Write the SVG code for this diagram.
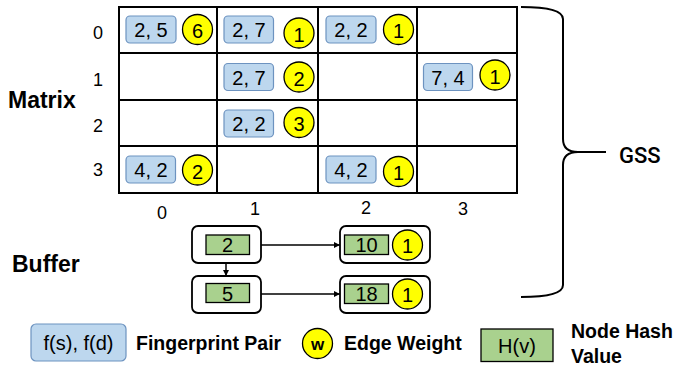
<svg xmlns="http://www.w3.org/2000/svg" width="676" height="370" viewBox="0 0 676 370">
<defs>
<style>
.fp{fill:#bdd7ee;stroke:#6d93c0;stroke-width:1.2}
.w{fill:#ffff00;stroke:#000;stroke-width:1.3}
.h{fill:#a9d18e;stroke:#000;stroke-width:1.3}
.bx{fill:#fff;stroke:#000;stroke-width:1.8}
.num{font-family:"Liberation Sans",Arial,sans-serif;font-size:20px;fill:#000;text-anchor:middle}
.lbl{font-family:"Liberation Sans",Arial,sans-serif;font-size:18px;fill:#000;text-anchor:middle}
.big{font-family:"Liberation Sans",Arial,sans-serif;font-size:23px;font-weight:bold;fill:#000}
.leg{font-family:"Liberation Sans",Arial,sans-serif;font-size:19.5px;font-weight:bold;fill:#000}
.grid{stroke:#000;stroke-width:2;fill:none}
.conn{stroke:#000;stroke-width:1.5;fill:none}
</style>
<marker id="ah" viewBox="0 0 10 10" refX="10" refY="5" markerWidth="6" markerHeight="6" orient="auto" markerUnits="userSpaceOnUse">
<path d="M0,0 L10,5 L0,10 z" fill="#000"/>
</marker>
</defs>
<rect width="676" height="370" fill="#fff"/>

<g id="matrix-grid">
<rect class="grid" x="119" y="7" width="398" height="186"/>
<line class="grid" x1="217" y1="7" x2="217" y2="193"/>
<line class="grid" x1="318" y1="7" x2="318" y2="193"/>
<line class="grid" x1="417" y1="7" x2="417" y2="193"/>
<line class="grid" x1="119" y1="53" x2="517" y2="53"/>
<line class="grid" x1="119" y1="100" x2="517" y2="100"/>
<line class="grid" x1="119" y1="146" x2="517" y2="146"/>
</g>

<g id="axis-labels">
<text class="lbl" x="98" y="39">0</text>
<text class="lbl" x="98" y="86">1</text>
<text class="lbl" x="98" y="131.5">2</text>
<text class="lbl" x="98" y="176">3</text>
<text class="lbl" x="162" y="219">0</text>
<text class="lbl" x="255" y="215">1</text>
<text class="lbl" x="366" y="214">2</text>
<text class="lbl" x="463" y="215">3</text>
</g>

<g id="cell-0-0">
<rect class="fp" x="126" y="16" width="50" height="27" rx="4"/>
<text class="num" x="151" y="37">2, 5</text>
<circle class="w" cx="197.5" cy="29.5" r="15"/>
<text class="num" x="197.5" y="38">6</text>
</g>
<g id="cell-0-1">
<rect class="fp" x="224" y="16" width="49.5" height="27" rx="4"/>
<text class="num" x="249" y="37">2, 7</text>
<circle class="w" cx="299" cy="33" r="15"/>
<text class="num" x="299" y="41.5">1</text>
</g>
<g id="cell-0-2">
<rect class="fp" x="326" y="16" width="50" height="27" rx="4"/>
<text class="num" x="351" y="37">2, 2</text>
<circle class="w" cx="398.5" cy="29.5" r="15"/>
<text class="num" x="398.5" y="38">1</text>
</g>
<g id="cell-1-1">
<rect class="fp" x="224" y="63.5" width="49.5" height="27" rx="4"/>
<text class="num" x="249" y="84.5">2, 7</text>
<circle class="w" cx="299" cy="77" r="15"/>
<text class="num" x="299" y="85.5">2</text>
</g>
<g id="cell-1-3">
<rect class="fp" x="423.5" y="63.5" width="49" height="27" rx="4"/>
<text class="num" x="448" y="84.5">7, 4</text>
<circle class="w" cx="495" cy="75" r="15"/>
<text class="num" x="495" y="83.5">1</text>
</g>
<g id="cell-2-1">
<rect class="fp" x="224" y="110" width="49.5" height="27" rx="4"/>
<text class="num" x="249" y="131">2, 2</text>
<circle class="w" cx="299" cy="122.5" r="15"/>
<text class="num" x="299" y="131">3</text>
</g>
<g id="cell-3-0">
<rect class="fp" x="126" y="156" width="49.5" height="27" rx="4"/>
<text class="num" x="151" y="177">4, 2</text>
<circle class="w" cx="197.5" cy="170" r="15"/>
<text class="num" x="197.5" y="178.5">2</text>
</g>
<g id="cell-3-2">
<rect class="fp" x="326" y="156" width="50" height="27" rx="4"/>
<text class="num" x="351" y="177">4, 2</text>
<circle class="w" cx="398.5" cy="171.5" r="15"/>
<text class="num" x="398.5" y="180">1</text>
</g>

<g id="label-matrix"><text class="big" x="8" y="108">Matrix</text></g>
<g id="label-buffer"><text class="big" x="12" y="272">Buffer</text></g>

<g id="buf-node-2">
<rect class="bx" x="192" y="226" width="69" height="37" rx="6"/>
<rect class="h" x="206" y="235" width="43.5" height="19.5"/>
<text class="num" x="227.5" y="252">2</text>
</g>
<g id="buf-node-5">
<rect class="bx" x="192" y="276" width="69" height="37" rx="6"/>
<rect class="h" x="206" y="283.5" width="43.5" height="19"/>
<text class="num" x="227.5" y="300.5">5</text>
</g>
<g id="buf-edge-10">
<rect class="bx" x="340" y="226" width="90" height="37" rx="6"/>
<rect class="h" x="344.5" y="235" width="44" height="19.5"/>
<text class="num" x="366.5" y="252">10</text>
<circle class="w" cx="407.5" cy="245" r="15"/>
<text class="num" x="407.5" y="253">1</text>
</g>
<g id="buf-edge-18">
<rect class="bx" x="340" y="276" width="90" height="37" rx="6"/>
<rect class="h" x="344.5" y="284" width="44" height="19.5"/>
<text class="num" x="366.5" y="301">18</text>
<circle class="w" cx="407.5" cy="294" r="15"/>
<text class="num" x="407.5" y="302">1</text>
</g>

<g id="connectors">
<line class="conn" x1="261" y1="245" x2="340" y2="245" marker-end="url(#ah)"/>
<line class="conn" x1="261" y1="294" x2="340" y2="294" marker-end="url(#ah)"/>
<line class="conn" x1="226" y1="263" x2="226" y2="276" marker-end="url(#ah)"/>
</g>

<g id="gss-brace">
<path d="M521,7 Q563,7 563,19 L563,139 Q563,152 578,152 Q563,152 563,165 L563,285 Q563,297 521,297" fill="none" stroke="#000" stroke-width="2"/>
<line x1="576" y1="152" x2="606" y2="152" stroke="#000" stroke-width="2"/>
<text x="619" y="163" font-family="Roboto,'Liberation Sans',sans-serif" font-size="22" font-weight="500" fill="#000">GSS</text>
</g>

<g id="legend">
<rect class="fp" x="31" y="324" width="95" height="37" rx="5"/>
<text class="num" x="78.5" y="349.5">f(s), f(d)</text>
<text class="leg" x="136" y="350">Fingerprint Pair</text>
<circle class="w" cx="317.5" cy="343.5" r="15"/>
<text x="317.5" y="349.5" font-family="'Liberation Sans',Arial,sans-serif" font-size="17" font-weight="bold" text-anchor="middle">w</text>
<text class="leg" x="344" y="350">Edge Weight</text>
<rect class="h" x="481" y="329" width="72" height="32.5"/>
<text class="num" x="517" y="352.5">H(v)</text>
<text class="leg" x="571" y="338">Node Hash</text>
<text class="leg" x="571" y="363">Value</text>
</g>
</svg>
